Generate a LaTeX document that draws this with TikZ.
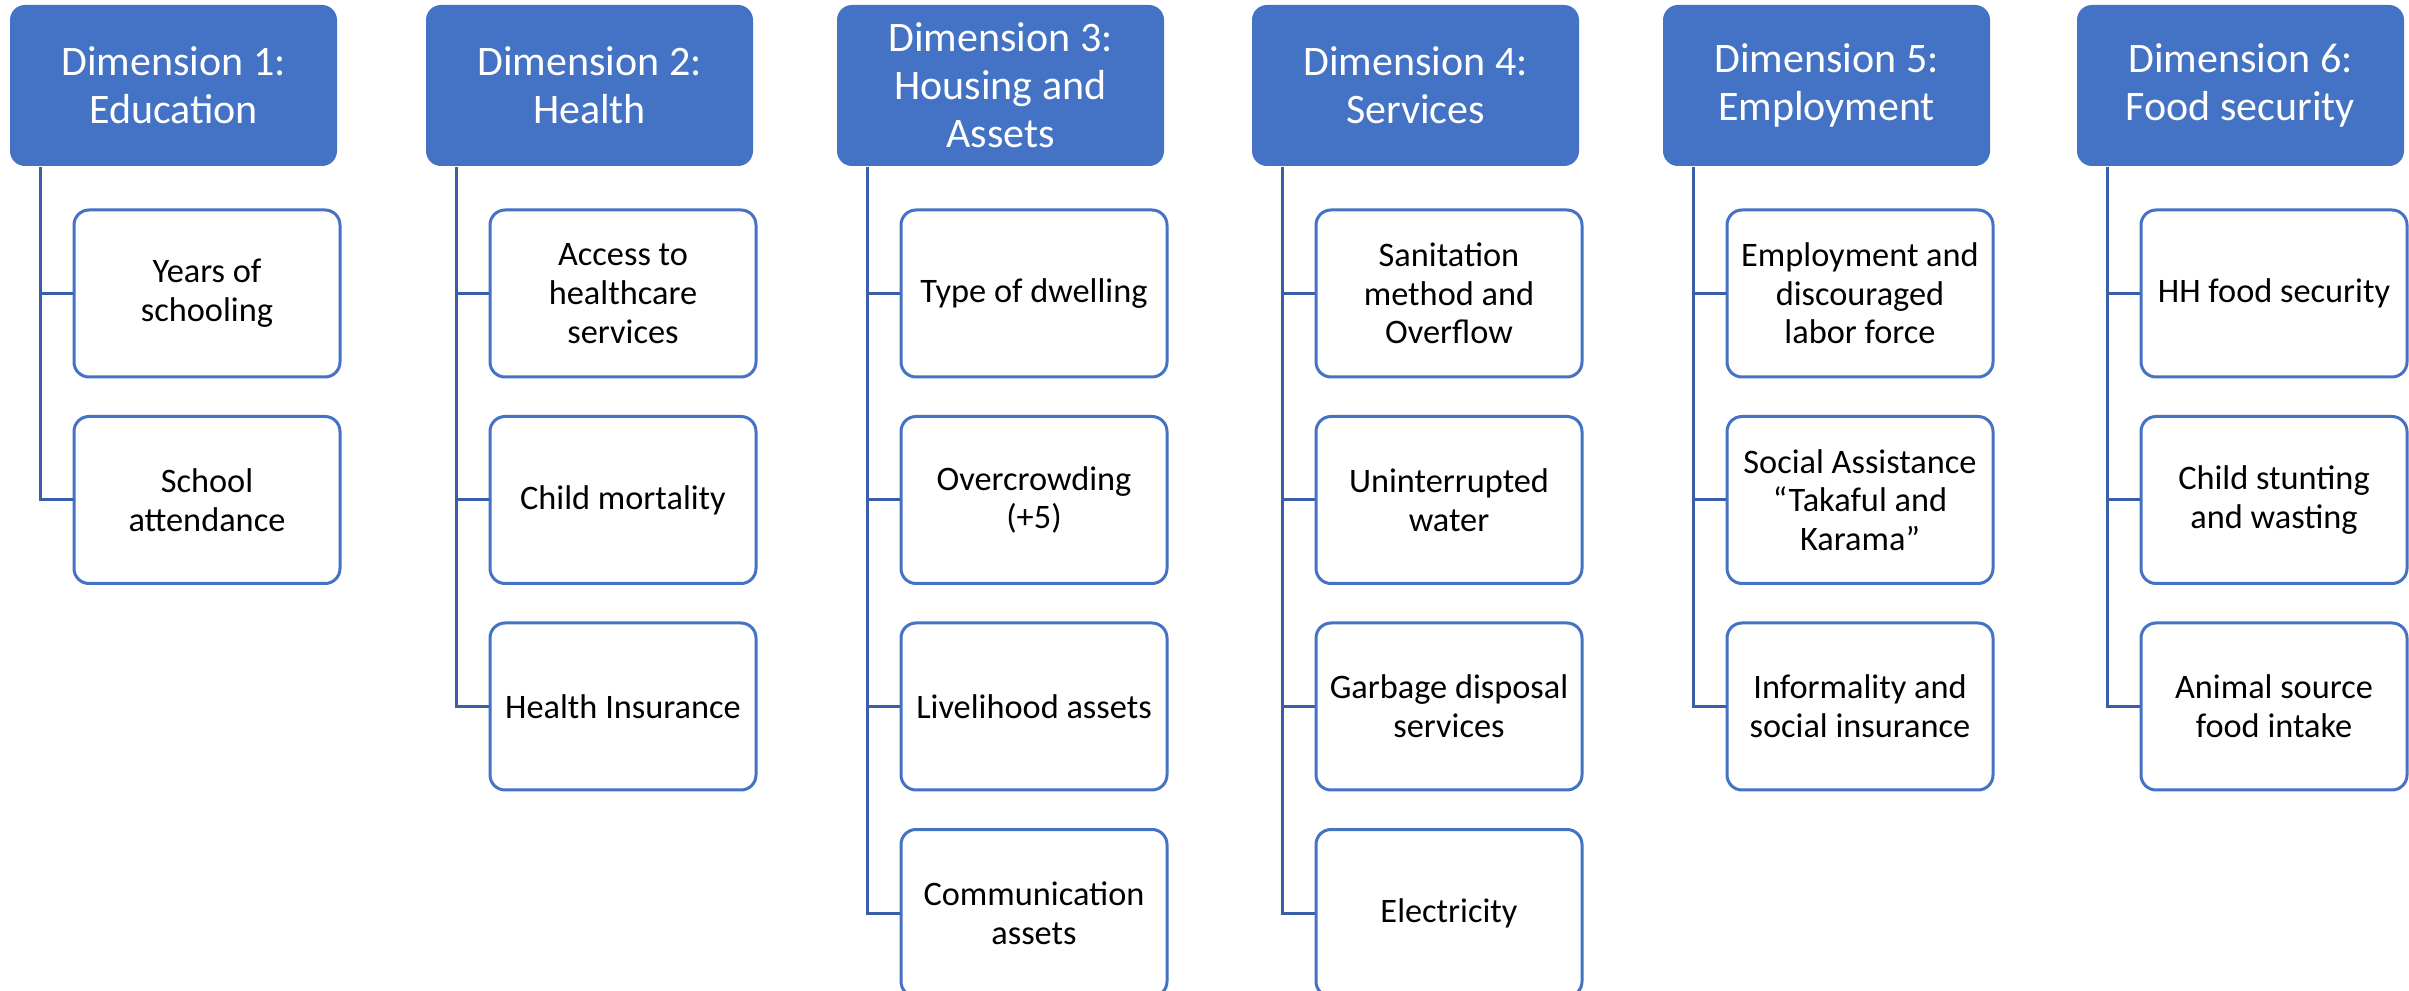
\documentclass[tikz,border=0pt]{standalone}
\usepackage{fontspec}
\setmainfont{Carlito}
\definecolor{accent}{HTML}{4472C4}
\definecolor{connc}{RGB}{58,94,168}
\tikzset{
  hdr/.style={fill=accent, rounded corners=4.5pt, minimum width=98.1pt, minimum height=48.3pt,
    inner sep=0pt, align=center, text=white, font=\fontsize{12.6}{14.4}\selectfont},
  item/.style={draw=accent, line width=0.9pt, fill=white, rounded corners=4.5pt, minimum width=79.8pt,
    minimum height=50.1pt, inner sep=0pt, align=center, text=black, font=\fontsize{10.3}{11.6}\selectfont},
  conn/.style={draw=connc, line width=0.9pt}
}
\begin{document}
\begin{tikzpicture}[x=0.3pt,y=-0.3pt]
\clip (0,0) rectangle (2409,991);
\fill[white] (0,0) rectangle (2409,991);
% headers
\node[hdr] (h1) at (173.5,85.5) {Dimension 1:\\Education};
\node[hdr] (h2) at (589.5,85.5) {Dimension 2:\\Health};
\node[hdr] (h3) at (1000.5,85.5) {Dimension 3:\\Housing and\\Assets};
\node[hdr] (h4) at (1415.5,85.5) {Dimension 4:\\Services};
\node[hdr] (h5) at (1826.5,85.5) {Dimension 5:\\Employment};
\node[hdr] (h6) at (2240.5,85.5) {Dimension 6:\\Food security};
% column 1
\node[item] (c11) at (207,293.5) {Years of\\schooling};
\node[item] (c12) at (207,500) {School\\attendance};
% column 2
\node[item] (c21) at (623,293.5) {Access to\\healthcare\\services};
\node[item] (c22) at (623,500) {Child mortality};
\node[item] (c23) at (623,706.5) {Health Insurance};
% column 3
\node[item] (c31) at (1034,293.5) {Type of dwelling};
\node[item] (c32) at (1034,500) {Overcrowding\\(+5)};
\node[item] (c33) at (1034,706.5) {Livelihood assets};
\node[item] (c34) at (1034,913) {Communication\\assets};
% column 4
\node[item] (c41) at (1449,293.5) {Sanitation\\method and\\Overflow};
\node[item] (c42) at (1449,500) {Uninterrupted\\water};
\node[item] (c43) at (1449,706.5) {Garbage disposal\\services};
\node[item] (c44) at (1449,913) {Electricity};
% column 5
\node[item] (c51) at (1860,293.5) {Employment and\\discouraged\\labor force};
\node[item] (c52) at (1860,500) {Social Assistance\\“Takaful and\\Karama”};
\node[item] (c53) at (1860,706.5) {Informality and\\social insurance};
% column 6
\node[item] (c61) at (2274,293.5) {HH food security};
\node[item] (c62) at (2274,500) {Child stunting\\and wasting};
\node[item] (c63) at (2274,706.5) {Animal source\\food intake};
% connectors
\foreach \h/\c in {h1/c11,h1/c12,h2/c21,h2/c22,h2/c23,h3/c31,h3/c32,h3/c33,h3/c34,
                   h4/c41,h4/c42,h4/c43,h4/c44,h5/c51,h5/c52,h5/c53,h6/c61,h6/c62,h6/c63}
  \draw[conn] ([xshift=9.3pt]\h.south west) |- (\c.west);
\end{tikzpicture}
\end{document}
